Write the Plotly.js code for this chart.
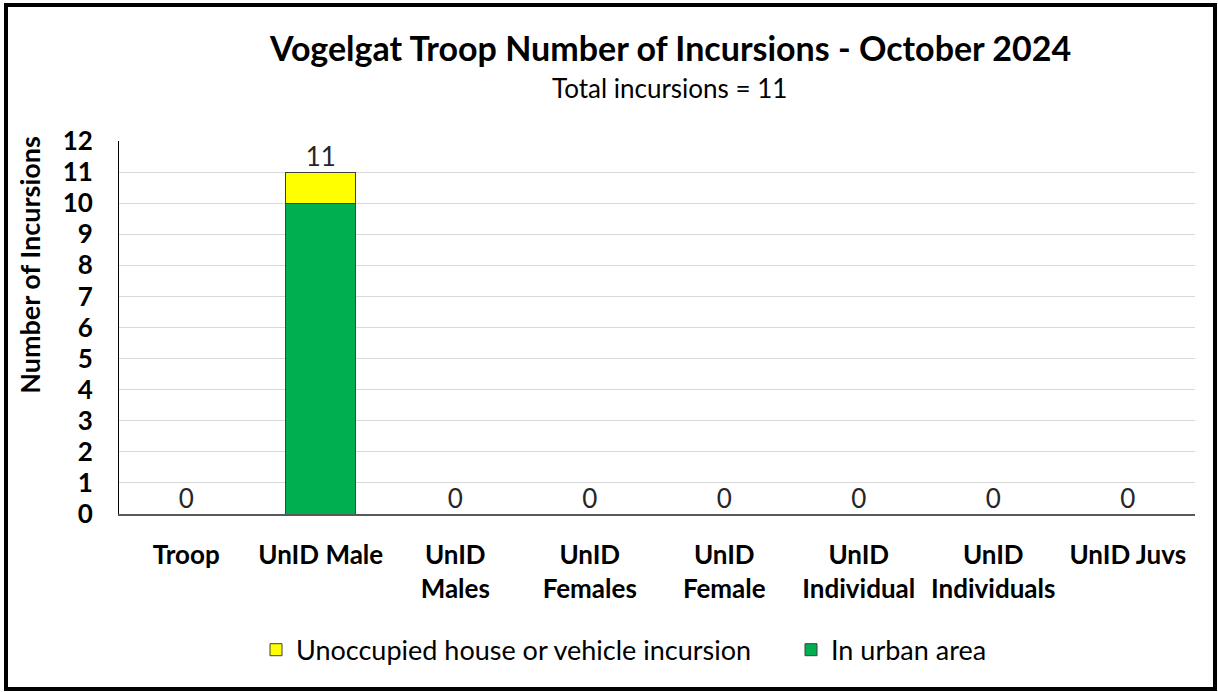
<!DOCTYPE html>
<html>
<head>
<meta charset="utf-8">
<script src="https://cdn.plot.ly/plotly-3.0.1.min.js"></script>
<style>
  html, body { margin: 0; padding: 0; background: #fff; }
  #wrap { position: relative; width: 1218px; height: 692px; }
  #chart { position: absolute; left: 0; top: 0; width: 1218px; height: 692px; }
  #frame { position: absolute; left: 4px; top: 3px; width: 1213px; height: 688px; box-sizing: border-box; border: 4px solid #000; pointer-events: none; }
</style>
</head>
<body>
<div id="wrap"><div id="chart"></div><div id="frame"></div></div>
<script>
const categories = ["Troop", "UnID Male", "UnID<br>Males", "UnID<br>Females", "UnID<br>Female", "UnID<br>Individual", "UnID<br>Individuals", "UnID Juvs"];
const urbanArea = [0, 10, 0, 0, 0, 0, 0, 0];
const houseVehicle = [0, 1, 0, 0, 0, 0, 0, 0];
const totals = [0, 11, 0, 0, 0, 0, 0, 0];
const titleText = "Vogelgat Troop Number of Incursions - October 2024";
const subtitleText = "Total incursions = 11";
const yTitle = "Number of Incursions";

const FONT = "Lato, 'Open Sans', sans-serif";

const traces = [
  { type: "bar", name: "In urban area", x: categories, y: urbanArea, legend: "legend2",
    marker: { color: "#00B050", line: { color: "#404040", width: 1 } }, hoverinfo: "skip" },
  { type: "bar", name: "Unoccupied house or vehicle incursion", x: categories, y: houseVehicle, legend: "legend",
    marker: { color: "#FFFF00", line: { color: "#404040", width: 1 } }, hoverinfo: "skip" },
  { type: "scatter", mode: "text", x: categories, y: totals, text: totals.map(String),
    textposition: "top center", textfont: { family: FONT, size: 26, color: "#262626" },
    showlegend: false, hoverinfo: "skip", cliponaxis: false }
];

const legendBase = { orientation: "h", xanchor: "left", y: -0.365, yanchor: "middle",
  font: { family: FONT, size: 27, color: "#000" }, itemwidth: 30, bgcolor: "rgba(0,0,0,0)" };

const layout = {
  width: 1218, height: 692,
  margin: { l: 119, r: 23, t: 141, b: 178 },
  paper_bgcolor: "#ffffff", plot_bgcolor: "#ffffff",
  barmode: "stack", bargap: 0.48,
  font: { family: FONT, color: "#000" },
  showlegend: true,
  legend: Object.assign({}, legendBase, { x: (256 - 119) / 1076 }),
  legend2: Object.assign({}, legendBase, { x: (791 - 119) / 1076 }),
  xaxis: { type: "category", showgrid: false, showline: true, linecolor: "#595959", linewidth: 2,
    ticks: "", tickfont: { family: FONT, size: 26, color: "#000", weight: "bold" },
    ticklabelstandoff: 17, fixedrange: true },
  yaxis: { range: [0, 12], dtick: 1, tick0: 0, showgrid: true, gridcolor: "#d9d9d9", gridwidth: 1,
    showline: true, linecolor: "#000", linewidth: 1, zeroline: false, ticks: "",
    tickfont: { family: FONT, size: 26, color: "#000", weight: "bold" },
    ticklabelstandoff: 20, fixedrange: true },
  annotations: [
    { text: "<b>" + titleText + "</b>", xref: "paper", yref: "paper", x: 0.512, y: 1.252,
      xanchor: "center", yanchor: "middle", showarrow: false, font: { family: FONT, size: 34, color: "#000" } },
    { text: subtitleText, xref: "paper", yref: "paper", x: 0.512, y: 1.142,
      xanchor: "center", yanchor: "middle", showarrow: false, font: { family: FONT, size: 26, color: "#000" } },
    { text: "<b>" + yTitle + "</b>", xref: "paper", yref: "paper", x: -0.0827, y: 0.668,
      xanchor: "center", yanchor: "middle", textangle: -90, showarrow: false, font: { family: FONT, size: 27, color: "#000" } }
  ]
};

Plotly.newPlot("chart", traces, layout, { displayModeBar: false, staticPlot: true });
</script>
</body>
</html>
